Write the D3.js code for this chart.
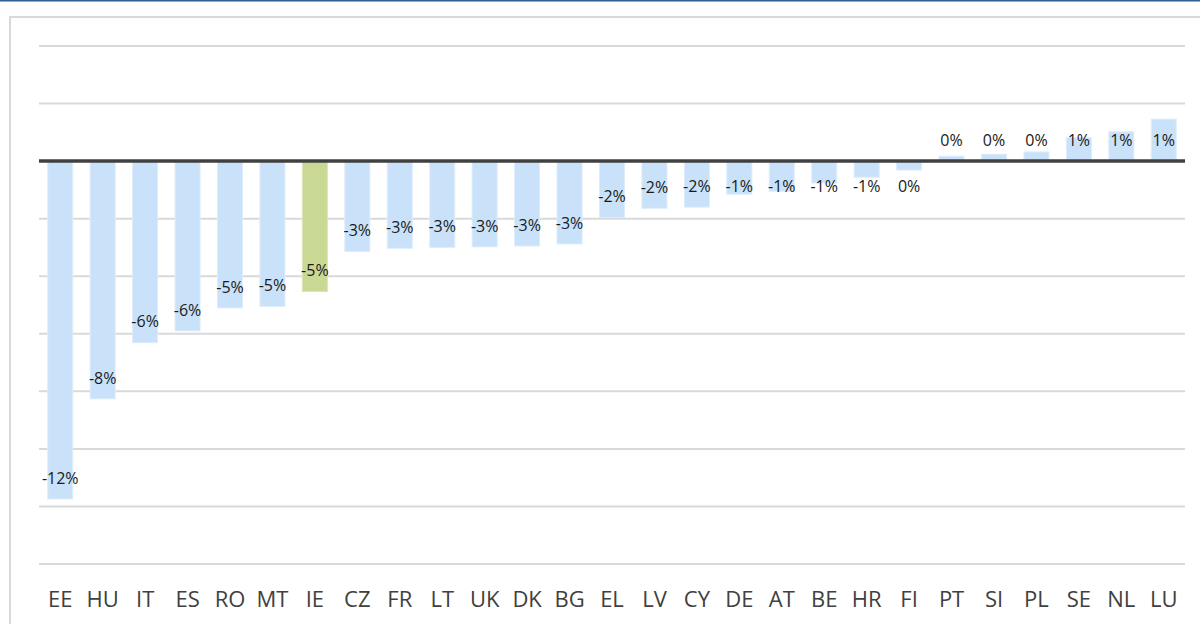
<!DOCTYPE html>
<html>
<head>
<meta charset="utf-8">
<script src="https://cdn.jsdelivr.net/npm/d3@7"></script>
<style>
  html, body { margin: 0; padding: 0; background: #ffffff; }
  svg { display: block; }
</style>
</head>
<body>
<svg id="chart" width="1200" height="624"></svg>
<script>
// Country codes, in the order they are plotted
const countries = ["EE","HU","IT","ES","RO","MT","IE","CZ","FR","LT","UK","DK","BG",
                   "EL","LV","CY","DE","AT","BE","HR","FI","PT","SI","PL","SE","NL","LU"];
// Change, in percent
const changePct = [-11.74,-8.26,-6.31,-5.90,-5.10,-5.05,-4.53,-3.14,-3.03,-3.00,-2.98,-2.95,-2.88,
                   -1.96,-1.64,-1.60,-1.15,-1.05,-0.76,-0.56,-0.31,0.17,0.24,0.32,0.81,1.02,1.46];
// Country shown in the highlight colour
const highlighted = ["IE"];
// Horizontal gridlines, in percent
const gridTicks = [4,2,0,-2,-4,-6,-8,-10,-12,-14];

const svg = d3.select("#chart");

// Frame: thin blue rule along the top and a light grey panel border
svg.append("line")
  .attr("x1", 0).attr("x2", 1200).attr("y1", 0.5).attr("y2", 0.5)
  .attr("stroke", "#2f5f8f").attr("stroke-width", 2);
svg.append("rect")
  .attr("x", 10).attr("y", 17).attr("width", 1220).attr("height", 640)
  .attr("fill", "none").attr("stroke", "#d9d9d9").attr("stroke-width", 2);

const x = d3.scaleBand()
  .domain(countries)
  .range([39, 1185])
  .paddingInner(0.41)
  .paddingOuter(0.205);

const y = d3.scaleLinear()
  .domain([-14, 4])
  .range([564, 46]);

// Gridlines
svg.append("g")
  .selectAll("line")
  .data(gridTicks.filter(t => t !== 0))
  .join("line")
  .attr("x1", 39).attr("x2", 1185)
  .attr("y1", d => y(d)).attr("y2", d => y(d))
  .attr("stroke", "#d9d9d9").attr("stroke-width", 2);

const data = countries.map((c, i) => ({ c, v: changePct[i] }));

// Bars
svg.append("g")
  .selectAll("rect")
  .data(data)
  .join("rect")
  .attr("x", d => x(d.c))
  .attr("width", x.bandwidth())
  .attr("y", d => Math.min(y(d.v), y(0)))
  .attr("height", d => Math.abs(y(d.v) - y(0)))
  .attr("fill", d => highlighted.includes(d.c) ? "#c9d993" : "#c9e2f9")
  .attr("stroke", d => highlighted.includes(d.c) ? "#dbe6b8" : "#deedfb")
  .attr("stroke-width", 1);

// Zero axis line
svg.append("line")
  .attr("x1", 39).attr("x2", 1185)
  .attr("y1", y(0)).attr("y2", y(0))
  .attr("stroke", "#404040").attr("stroke-width", 3.5);

// Value labels near the end of each bar, kept clear of the zero line
const fmt = v => {
  const r = Math.round(v);
  return (r === 0 ? "0" : String(r)) + "%";
};
const y0 = y(0);
svg.append("g")
  .selectAll("text")
  .data(data)
  .join("text")
  .attr("x", d => x(d.c) + x.bandwidth() / 2)
  .attr("y", d => d.v < 0 ? Math.max(y(d.v) - 21, y0 + 25) : Math.min(y(d.v) + 21, y0 - 21))
  .attr("dy", "0.36em")
  .attr("text-anchor", "middle")
  .attr("font-family", "'Open Sans', sans-serif")
  .attr("font-size", 16)
  .attr("fill", "#1a1a1a")
  .text(d => fmt(d.v));

// Category axis labels
const xAxis = d3.axisBottom(x).tickSize(0).tickPadding(0);
const gx = svg.append("g")
  .attr("transform", "translate(0,607)")
  .call(xAxis);
gx.select(".domain").remove();
gx.selectAll("text")
  .attr("dy", 0)
  .attr("y", 0)
  .attr("font-family", "'Open Sans', sans-serif")
  .attr("font-size", 22)
  .attr("fill", "#404040");
</script>
</body>
</html>
